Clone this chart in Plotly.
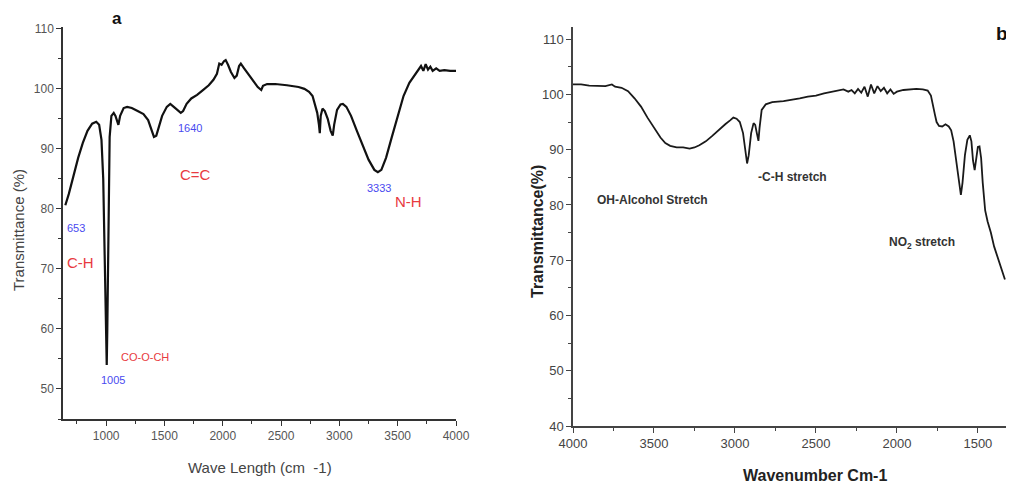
import plotly.graph_objects as go

# ---------------- Panel a data ----------------
a_wavenumber = [650, 680, 720, 760, 800, 840, 880, 915, 940, 960, 975, 990, 1000, 1005, 1010, 1020, 1030,
                1045, 1065, 1080, 1095, 1105, 1120, 1150, 1180, 1220, 1270, 1320, 1360, 1390, 1410, 1430,
                1450, 1480, 1520, 1550, 1580, 1610, 1640, 1660, 1690, 1730, 1780, 1830, 1880, 1920, 1950,
                1970, 1990, 2010, 2025, 2045, 2070, 2100, 2120, 2140, 2155, 2180, 2220, 2260, 2300, 2330,
                2345, 2380, 2450, 2550, 2650, 2700, 2740, 2770, 2790, 2810, 2825, 2832, 2840, 2855, 2875,
                2900, 2925, 2943, 2955, 2980, 3010, 3030, 3060, 3100, 3150, 3200, 3250, 3300, 3330, 3360,
                3400, 3450, 3500, 3550, 3600, 3650, 3680, 3700, 3720, 3740, 3760, 3780, 3800, 3830, 3860,
                3900, 3950, 4000]
a_transmittance = [80.6, 82.5, 85.5, 88.5, 91.0, 93.0, 94.2, 94.5, 94.0, 91.5, 85, 70, 58, 54, 60, 80, 92,
                   95.5, 96.0, 95.5, 94.5, 94.0, 95.5, 96.8, 97.0, 96.8, 96.3, 95.8, 94.8, 93.0, 92.0, 92.2,
                   93.5, 95.5, 97.0, 97.5, 97.0, 96.5, 96.0, 96.3, 97.5, 98.4, 99.0, 99.8, 100.6, 101.5, 102.5,
                   104.2, 104.0, 104.6, 104.8, 104.0, 102.8, 101.8, 102.2, 103.8, 104.2, 103.5, 102.5, 101.5,
                   100.3, 99.8, 100.5, 100.8, 100.8, 100.6, 100.3, 100.0, 99.5, 98.8, 97.5, 96.0, 94.0, 92.6,
                   95.5, 96.7, 96.3, 95.0, 93.0, 92.2, 94.0, 96.5, 97.4, 97.5, 97.0, 95.5, 93.0, 90.5, 88.2,
                   86.5, 86.1, 86.5, 88.5, 92.0, 95.5, 98.8, 101.0, 102.5, 103.2, 103.8, 103.0, 104.1, 103.2,
                   103.7, 103.0, 103.4, 103.0, 103.1, 103.0, 103.0]

a_labels = ["653", "C-H", "1005", "CO-O-CH", "1640", "C=C", "3333", "N-H"]
a_label_x = [650, 650, 1060, 1112, 1722, 1765, 3338, 3596]
a_label_y = [76.9, 71.1, 51.5, 55.3, 93.5, 85.7, 83.4, 81.2]
a_label_kind = ["num", "grp", "num", "grp_small", "num", "grp", "num", "grp"]

# ---------------- Panel b data ----------------
b_wavenumber = [4000, 3950, 3900, 3850, 3800, 3760, 3740, 3700, 3660, 3620, 3580, 3540, 3500, 3460, 3430,
                3400, 3360, 3320, 3280, 3250, 3220, 3180, 3140, 3100, 3060, 3030, 3010, 2990, 2970, 2950,
                2935, 2925, 2915, 2900, 2885, 2875, 2865, 2855, 2848, 2835, 2810, 2770, 2700, 2650, 2600,
                2550, 2500, 2450, 2400, 2360, 2330, 2300, 2280, 2260, 2240, 2220, 2200, 2180, 2160, 2140,
                2120, 2100, 2080, 2060, 2040, 2020, 2000, 1960, 1920, 1880, 1840, 1810, 1790, 1775, 1765,
                1755, 1740, 1720, 1700, 1680, 1665, 1650, 1630, 1615, 1605, 1595, 1580, 1565, 1550, 1540,
                1530, 1520, 1510, 1500, 1490, 1480, 1470, 1455, 1440, 1420, 1400, 1380, 1360, 1345, 1333]
b_transmittance = [101.8, 101.8, 101.6, 101.6, 101.5, 101.8, 101.4, 101.2, 100.6, 99.3, 97.8, 95.8, 94.0,
                   92.2, 91.2, 90.7, 90.4, 90.4, 90.2, 90.4, 90.8, 91.5, 92.5, 93.6, 94.6, 95.3, 95.8, 95.6,
                   95.0, 93.0, 89.5, 87.5, 89.0, 93.0, 94.8, 94.5, 93.0, 91.6, 94.0, 97.2, 98.2, 98.6, 98.8,
                   99.0, 99.3, 99.6, 99.8, 100.2, 100.5, 100.7, 100.9, 100.5, 100.8, 100.2, 101.0, 100.3,
                   101.4, 99.6, 101.8, 100.2, 101.5, 100.6, 101.2, 100.2, 100.9, 100.1, 100.5, 100.8, 100.9,
                   101.0, 100.9, 100.7, 99.8, 98.0, 96.3, 95.0, 94.3, 94.2, 94.6, 94.2, 93.5, 91.5, 87.0,
                   83.0, 81.8, 84.0, 89.0, 91.8, 92.6, 91.5, 88.0, 86.3, 88.0, 90.5, 90.6, 88.5, 84.0, 79.0,
                   77.0, 75.0, 72.5, 70.8, 69.0, 67.5, 66.5]

b_labels = ["<b>OH-Alcohol Stretch</b>", "<b>-C-H stretch</b>", "<b>NO<sub>2</sub> stretch</b>"]
b_label_x = [3864, 2868, 2063]
b_label_y = [80.9, 85.1, 73.1]

a_xticks = [1000, 1500, 2000, 2500, 3000, 3500, 4000]
a_yticks = [50, 60, 70, 80, 90, 100, 110]
b_xticks = [4000, 3500, 3000, 2500, 2000, 1500]
b_yticks = [40, 50, 60, 70, 80, 90, 100, 110]

FONT = "Liberation Sans, Arial, sans-serif"

# The page body has an 8px margin, so the figure is drawn 8px in from the corner.
OFF = 8
W, H = 1014 - OFF, 488 - OFF


def px(x):
    return (x - OFF) / W


def py(y):
    return 1 - (y - OFF) / H


fig = go.Figure()
fig.add_trace(go.Scatter(x=a_wavenumber, y=a_transmittance, mode="lines",
                         line=dict(color="#111111", width=2.2), xaxis="x", yaxis="y",
                         showlegend=False, hoverinfo="skip"))
fig.add_trace(go.Scatter(x=b_wavenumber, y=b_transmittance, mode="lines",
                         line=dict(color="#1a1a1a", width=1.8), xaxis="x2", yaxis="y2",
                         showlegend=False, hoverinfo="skip"))

annotations = []
for t, x, y, k in zip(a_labels, a_label_x, a_label_y, a_label_kind):
    if k == "num":
        col, size = "#4a4af0", 11
    elif k == "grp":
        col, size = "#e83a40", 15
    else:
        col, size = "#e83a40", 11
    xanchor = "left" if t in ("653", "C-H", "CO-O-CH") else "center"
    annotations.append(dict(x=x, y=y, xref="x", yref="y", text=t, showarrow=False,
                            xanchor=xanchor, yanchor="middle",
                            font=dict(family=FONT, size=size, color=col)))
for t, x, y in zip(b_labels, b_label_x, b_label_y):
    annotations.append(dict(x=x, y=y, xref="x2", yref="y2", text=t, showarrow=False,
                            xanchor="left", yanchor="middle",
                            font=dict(family=FONT, size=12, color="#333333")))

# panel letters and axis titles
annotations += [
    dict(x=px(117), y=py(18), xref="paper", yref="paper", text="<b>a</b>", showarrow=False,
         xanchor="center", yanchor="middle", font=dict(family=FONT, size=17, color="#111111")),
    dict(x=px(1002), y=py(33), xref="paper", yref="paper", text="<b>b</b>", showarrow=False,
         xanchor="center", yanchor="middle", font=dict(family=FONT, size=19, color="#111111")),
    dict(x=px(18), y=py(230), xref="paper", yref="paper", text="Transmittance (%)",
         showarrow=False, textangle=-90, xanchor="center", yanchor="middle",
         font=dict(family=FONT, size=15, color="#444444")),
    dict(x=px(260), y=py(467), xref="paper", yref="paper", text="Wave Length (cm  -1)",
         showarrow=False, xanchor="center", yanchor="middle",
         font=dict(family=FONT, size=15, color="#444444")),
    dict(x=px(537), y=py(232), xref="paper", yref="paper", text="<b>Transmittance(%)</b>",
         showarrow=False, textangle=-90, xanchor="center", yanchor="middle",
         font=dict(family=FONT, size=16, color="#222222")),
    dict(x=px(815), y=py(475), xref="paper", yref="paper", text="<b>Wavenumber Cm-1</b>",
         showarrow=False, xanchor="center", yanchor="middle",
         font=dict(family=FONT, size=16, color="#222222")),
]

axis_common = dict(showgrid=False, zeroline=False, showline=True, ticks="outside", mirror=False,
                   automargin=False)

fig.update_layout(
    width=W, height=H,
    margin=dict(l=0, r=0, t=0, b=0, pad=0, autoexpand=False),
    paper_bgcolor="white", plot_bgcolor="white",
    font=dict(family=FONT),
    xaxis=dict(**axis_common, domain=[px(63), px(456)], range=[630, 4000], anchor="y",
               tickvals=a_xticks, linecolor="#333333", linewidth=1.5, tickcolor="#333333",
               ticklen=5, tickwidth=1.2, tickfont=dict(size=12, color="#555555"),
               minor=dict(dtick=250, tick0=0, ticks="outside", ticklen=3, tickcolor="#333333")),
    yaxis=dict(**axis_common, domain=[py(419), py(27)], range=[45, 110.3],
               anchor="x", tickvals=a_yticks, linecolor="#333333", linewidth=1.5,
               tickcolor="#333333", ticklen=5, tickwidth=1.2,
               tickfont=dict(size=12, color="#555555"),
               minor=dict(dtick=5, tick0=0, ticks="outside", ticklen=3, tickcolor="#333333")),
    xaxis2=dict(**axis_common, domain=[px(573), 1.0], range=[4000, 1277], anchor="y2",
                tickvals=b_xticks, linecolor="#444444", linewidth=1.5, tickcolor="#444444",
                ticklen=5, tickwidth=1.2, tickfont=dict(size=13, color="#444444"),
                minor=dict(dtick=250, tick0=0, ticks="outside", ticklen=3, tickcolor="#444444")),
    yaxis2=dict(**axis_common, domain=[py(426), py(27)], range=[40, 112.2],
                anchor="x2", tickvals=b_yticks, linecolor="#444444", linewidth=1.5,
                tickcolor="#444444", ticklen=5, tickwidth=1.2,
                tickfont=dict(size=13, color="#444444"),
                minor=dict(dtick=5, tick0=0, ticks="outside", ticklen=3, tickcolor="#444444")),
    annotations=annotations,
)

fig.write_html("out.html")
